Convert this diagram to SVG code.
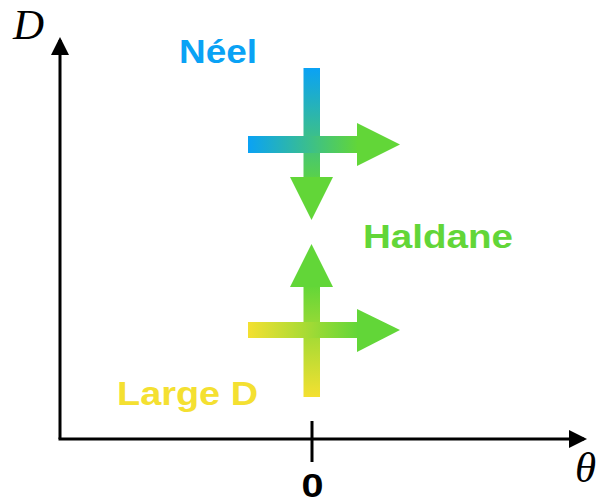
<svg xmlns="http://www.w3.org/2000/svg" width="608" height="499" viewBox="0 0 608 499">
<style>
.lbl{font-family:"Liberation Sans",Arial,sans-serif;font-weight:bold;font-size:34px}
.math{font-family:"Liberation Serif","Times New Roman",serif;font-style:italic;font-size:43px;fill:#000}
.axis{stroke:#000;stroke-width:3;fill:none}
</style>
<defs>
<marker id="ah" markerWidth="6" markerHeight="6" refX="5" refY="3" orient="auto" markerUnits="strokeWidth"><path d="M0,0 L6,3 L0,6 Z" fill="#000"/></marker>
<linearGradient id="gNv" x1="0" y1="68" x2="0" y2="190" gradientUnits="userSpaceOnUse"><stop offset="0" stop-color="#0aa2f5"/><stop offset="1" stop-color="#62d638"/></linearGradient>
<linearGradient id="gNh" x1="248" y1="0" x2="358" y2="0" gradientUnits="userSpaceOnUse"><stop offset="0" stop-color="#0aa2f5"/><stop offset="1" stop-color="#62d638"/></linearGradient>
<linearGradient id="gLv" x1="0" y1="397" x2="0" y2="285" gradientUnits="userSpaceOnUse"><stop offset="0" stop-color="#f4e031"/><stop offset="1" stop-color="#62d638"/></linearGradient>
<linearGradient id="gLh" x1="248" y1="0" x2="358" y2="0" gradientUnits="userSpaceOnUse"><stop offset="0" stop-color="#f4e031"/><stop offset="1" stop-color="#62d638"/></linearGradient>
</defs>
<g id="connectors">
<line class="axis" x1="60" y1="439" x2="60" y2="40" marker-end="url(#ah)"/>
<line class="axis" x1="58.5" y1="439" x2="584" y2="439" marker-end="url(#ah)"/>
<line class="axis" x1="312" y1="421" x2="312" y2="462"/>
</g>
<g id="neel-flow">
<rect x="303.5" y="68" width="16.5" height="110" fill="url(#gNv)"/>
<polygon points="290,177 333,177 311.5,220" fill="#62d638"/>
<rect x="248" y="136" width="110" height="17" fill="url(#gNh)"/>
<polygon points="357,123 357,166 400,144.5" fill="#62d638"/>
</g>
<g id="larged-flow">
<rect x="303.5" y="286" width="16.5" height="111" fill="url(#gLv)"/>
<polygon points="290,287 333,287 311.5,244" fill="#62d638"/>
<rect x="248" y="322" width="110" height="16" fill="url(#gLh)"/>
<polygon points="357,309 357,352 400,330" fill="#62d638"/>
</g>
<g id="labels">
<text class="lbl" x="179" y="63" fill="#0aa2f5" textLength="78" lengthAdjust="spacingAndGlyphs">Néel</text>
<text class="lbl" x="363" y="248" fill="#62d638" textLength="150" lengthAdjust="spacingAndGlyphs">Haldane</text>
<text class="lbl" x="117" y="405" fill="#f4e031" textLength="141" lengthAdjust="spacingAndGlyphs">Large D</text>
<text x="0" y="0" transform="translate(312.5 497) scale(1.2 1)" text-anchor="middle" font-family="'Liberation Sans',Arial,sans-serif" font-weight="bold" font-size="33">0</text>
<text class="math" x="13" y="39">D</text>
<text class="math" x="575" y="482">θ</text>
</g>
</svg>
